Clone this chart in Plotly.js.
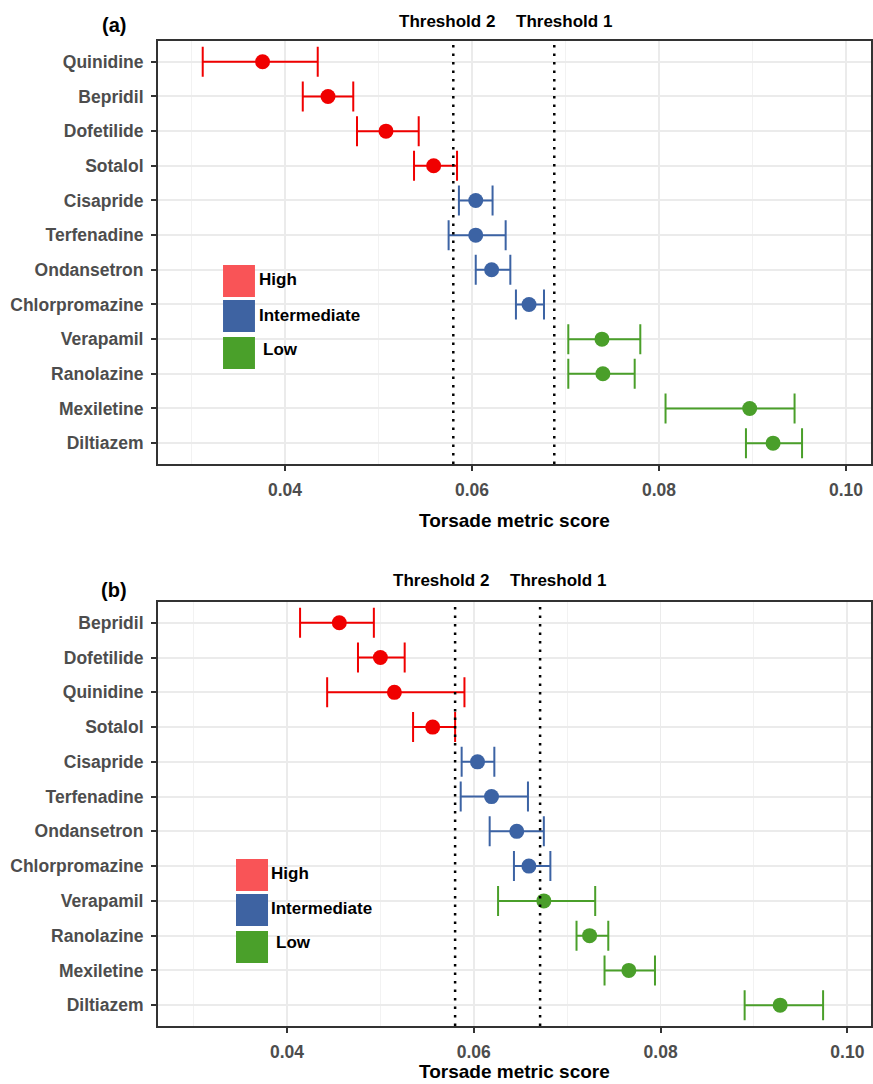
<!DOCTYPE html>
<html><head><meta charset="utf-8">
<script src="https://cdn.plot.ly/plotly-3.0.1.min.js"></script>
<style>html,body{margin:0;padding:0;background:#fff}#chart{width:873px;height:1084px}</style>
</head><body><div id="chart"></div><script>
// ---- Panel (a) data ----
const drugsA = ['Quinidine','Bepridil','Dofetilide','Sotalol','Cisapride','Terfenadine','Ondansetron','Chlorpromazine','Verapamil','Ranolazine','Mexiletine','Diltiazem'];
const riskA  = ['High','High','High','High','Intermediate','Intermediate','Intermediate','Intermediate','Low','Low','Low','Low'];
const scoreA = [0.0376,0.0446,0.0508,0.0559,0.0604,0.0604,0.0621,0.0661,0.0739,0.0740,0.0897,0.0922];
const lowerA = [0.0312,0.0419,0.0477,0.0538,0.0586,0.0575,0.0604,0.0647,0.0703,0.0703,0.0807,0.0893];
const upperA = [0.0435,0.0473,0.0543,0.0584,0.0622,0.0636,0.0641,0.0677,0.0780,0.0774,0.0945,0.0953];
const thresholdsA = [0.0580, 0.0688];

// ---- Panel (b) data ----
const drugsB = ['Bepridil','Dofetilide','Quinidine','Sotalol','Cisapride','Terfenadine','Ondansetron','Chlorpromazine','Verapamil','Ranolazine','Mexiletine','Diltiazem'];
const riskB  = ['High','High','High','High','Intermediate','Intermediate','Intermediate','Intermediate','Low','Low','Low','Low'];
const scoreB = [0.0456,0.0500,0.0515,0.0556,0.0604,0.0619,0.0646,0.0659,0.0675,0.0724,0.0766,0.0928];
const lowerB = [0.0414,0.0476,0.0443,0.0535,0.0587,0.0586,0.0617,0.0643,0.0626,0.0710,0.0740,0.0890];
const upperB = [0.0493,0.0526,0.0590,0.0580,0.0622,0.0658,0.0675,0.0682,0.0730,0.0744,0.0794,0.0974];
const thresholdsB = [0.0580, 0.0671];

const thresholdLabels = ['Threshold 2','Threshold 1'];
const riskLevels = ['High','Intermediate','Low'];
const panelLabels = ['(a)','(b)'];
const xTitle = 'Torsade metric score';

// ---- styles ----
const pointColors = {High:'#F00000', Intermediate:'#3C63A4', Low:'#4A9F2A'};
const legendColors = {High:'#F95457', Intermediate:'#3E63A2', Low:'#4AA02A'};
const FONT = 'Liberation Sans, Arial, Helvetica, sans-serif';

function buildTraces(drugs, risk, score, lower, upper, xa, ya) {
  return riskLevels.map(level => {
    const idx = drugs.map((d,i)=>i).filter(i => risk[i] === level);
    return {
      type:'scatter', mode:'markers', xaxis:xa, yaxis:ya, showlegend:false, name:level,
      x: idx.map(i=>score[i]), y: idx.map(i=>drugs[i]),
      marker:{color:pointColors[level], size:15},
      error_x:{type:'data', symmetric:false,
        array: idx.map(i=>upper[i]-score[i]),
        arrayminus: idx.map(i=>score[i]-lower[i]),
        color:pointColors[level], thickness:2, width:15}
    };
  });
}

const traces = [
  ...buildTraces(drugsA, riskA, scoreA, lowerA, upperA, 'x', 'y'),
  ...buildTraces(drugsB, riskB, scoreB, lowerB, upperB, 'x2', 'y2')
];

const tickFont = {family:FONT, size:17.5, color:'#4D4D4D', weight:'bold'};
function xAxis(range, anchor) {
  return {anchor, range, domain:[0,1], dtick:0.02, tick0:0.04, tickformat:'.2f',
    showgrid:true, gridcolor:'#EBEBEB', gridwidth:1.8,
    minor:{dtick:0.01, tick0:0.03, showgrid:true, gridcolor:'#F2F2F2', gridwidth:1},
    showline:true, linecolor:'#333333', linewidth:2, mirror:true,
    ticks:'outside', ticklen:5, tickwidth:2, tickcolor:'#333333',
    tickfont:tickFont, zeroline:false, ticklabelstandoff:4, fixedrange:true};
}
function yAxis(cats, domain, anchor) {
  return {anchor, domain, type:'category', categoryorder:'array', categoryarray:cats,
    range:[cats.length-0.4, -0.6],
    showgrid:true, gridcolor:'#EBEBEB', gridwidth:2,
    showline:true, linecolor:'#333333', linewidth:2, mirror:true,
    ticks:'outside', ticklen:5, tickwidth:2, tickcolor:'#333333',
    tickfont:tickFont, zeroline:false, ticklabelstandoff:4, fixedrange:true};
}

const shapes = [];
[[thresholdsA,'x','y'],[thresholdsB,'x2','y2']].forEach(([ths,xa,ya]) => {
  ths.forEach(t => shapes.push({type:'line', xref:xa, yref:ya+' domain', x0:t, x1:t, y0:0, y1:1,
    layer:'above', line:{color:'#000000', width:2.5, dash:'2.5px,6px'}}));
});

// legend boxes (paper coordinates)
const legendBoxes = [
  {x0:0.0912, x1:0.1360, ys:[[0.7401,0.7726],[0.7046,0.7371],[0.6670,0.6995]], tx:[0.1389,0.1389,0.1445], ty:[0.7574,0.7218,0.6863]},
  {x0:0.1094, x1:0.1543, ys:[[0.1371,0.1695],[0.1015,0.1340],[0.0640,0.0964]], tx:[0.1557,0.1557,0.1627], ty:[0.1553,0.1188,0.0843]}
];
const annotations = [];
legendBoxes.forEach(lb => {
  riskLevels.forEach((lvl,k) => {
    shapes.push({type:'rect', xref:'paper', yref:'paper', x0:lb.x0, x1:lb.x1, y0:lb.ys[k][0], y1:lb.ys[k][1],
      fillcolor:legendColors[lvl], line:{width:0}, layer:'above'});
    annotations.push({xref:'paper', yref:'paper', x:lb.tx[k], y:lb.ty[k], xanchor:'left', yanchor:'middle',
      text:lvl, showarrow:false, font:{family:FONT, size:17, color:'#000000', weight:'bold'}});
  });
});

const labelFont = {family:FONT, size:17, color:'#000000', weight:'bold'};
// threshold labels
[[0.4053,0.5694,1.0193],[0.3969,0.5610,0.4518]].forEach(([x2,x1,y]) => {
  annotations.push({xref:'paper', yref:'paper', x:x2, y, xanchor:'center', yanchor:'middle', text:thresholdLabels[0], showarrow:false, font:labelFont});
  annotations.push({xref:'paper', yref:'paper', x:x1, y, xanchor:'center', yanchor:'middle', text:thresholdLabels[1], showarrow:false, font:labelFont});
});
// panel labels
annotations.push({xref:'paper', yref:'paper', x:-0.0617, y:1.0162, xanchor:'center', yanchor:'middle', text:panelLabels[0], showarrow:false, font:{family:FONT, size:20, color:'#000', weight:'bold'}});
annotations.push({xref:'paper', yref:'paper', x:-0.0617, y:0.4426, xanchor:'center', yanchor:'middle', text:panelLabels[1], showarrow:false, font:{family:FONT, size:20, color:'#000', weight:'bold'}});
// x axis titles
annotations.push({xref:'paper', yref:'paper', x:0.5, y:0.5127, xanchor:'center', yanchor:'middle', text:xTitle, showarrow:false, font:{family:FONT, size:19, color:'#000', weight:'bold'}});
annotations.push({xref:'paper', yref:'paper', x:0.5, y:-0.0457, xanchor:'center', yanchor:'middle', text:xTitle, showarrow:false, font:{family:FONT, size:19, color:'#000', weight:'bold'}});

const layout = {
  width:873, height:1084,
  margin:{l:158, r:2, t:41, b:58},
  paper_bgcolor:'#ffffff', plot_bgcolor:'#ffffff',
  showlegend:false,
  xaxis: xAxis([0.026417, 0.102674], 'y'),
  yaxis: yAxis(drugsA, [0.5706, 1], 'x'),
  xaxis2: xAxis([0.026188, 0.10253], 'y2'),
  yaxis2: yAxis(drugsB, [0, 0.4305], 'x2'),
  shapes, annotations
};

Plotly.newPlot('chart', traces, layout, {displayModeBar:false, staticPlot:true});
</script></body></html>
